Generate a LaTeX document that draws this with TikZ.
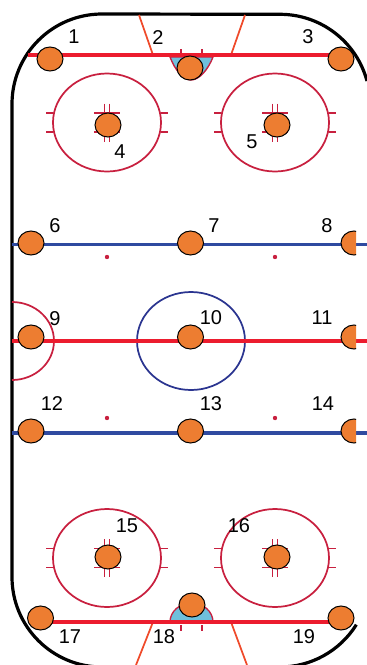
\documentclass[tikz,border=0pt]{standalone}
\usepackage{fontspec}
\setmainfont{Liberation Sans}
\usetikzlibrary{shapes.geometric}
\definecolor{spotorange}{HTML}{ED7D31}
\definecolor{linered}{HTML}{EC1C2E}
\definecolor{lineblue}{HTML}{2F4AA0}
\definecolor{circlered}{HTML}{C8203F}
\definecolor{circleblue}{HTML}{2B3590}
\definecolor{trapred}{HTML}{EF4A2A}
\definecolor{creaseblue}{HTML}{6FC0DC}

\begin{document}
\begin{tikzpicture}[
  x=0.75pt, y=-0.75pt,
  wall/.style={draw=black, line width=2.4pt},
  redline/.style={draw=linered, line width=3.2pt},
  centreline/.style={draw=linered, line width=2.8pt},
  blueline/.style={draw=lineblue, line width=2.8pt},
  trapline/.style={draw=trapred, line width=1.3pt},
  crease/.style={draw=circlered, fill=creaseblue, line width=1pt},
  tick/.style={draw=circlered, line width=1.1pt},
  ring/.style={draw=circlered, line width=1.3pt},
  spot/.style={ellipse, draw=black, fill=spotorange, line width=0.75pt, inner sep=0pt, minimum width=19.5pt, minimum height=18pt},
  lab/.style={font=\fontsize{15}{17}\selectfont, inner sep=0pt},
  faceoff/.pic={
    \draw[ring] (0,0) ellipse (54 and 49);
    \draw[tick] (-54,-9.5) -- (-61,-9.5);
    \draw[tick] (-54,9.5) -- (-61,9.5);
    \draw[tick] (54,-9.5) -- (61,-9.5);
    \draw[tick] (54,9.5) -- (61,9.5);
    \draw[tick] (-2.5,-19) -- (-2.5,19);
    \draw[tick] (2.5,-19) -- (2.5,19);
    \draw[tick] (-13,-9.5) -- (13,-9.5);
    \draw[tick] (-13,9.5) -- (13,9.5);
  }
]
\useasboundingbox (0,0) rectangle (367,665);

% boards
\draw[wall] (367,81) arc (-15:-90:90) -- (102,14) arc (-90:-180:90) -- (12,577) arc (180:90:90) -- (280,667) arc (90:32:90);

% goal creases
\draw[crease] (170,57) .. controls (175,70) and (183,80) .. (191,80) .. controls (199,80) and (208,70) .. (213,57) -- cycle;
\draw[crease] (170,622) arc (180:360:21.5 and 19) -- cycle;
\draw[tick] (181,49) -- (181,54);
\draw[tick] (202,49) -- (202,54);
\draw[tick] (181,625) -- (181,631);
\draw[tick] (202,625) -- (202,631);

% trapezoids
\draw[trapline] (139,15) -- (153,55);
\draw[trapline] (245,15) -- (231,55);
\draw[trapline] (153,622) -- (136,665);
\draw[trapline] (231,622) -- (247,665);

% circles
\pic at (107,122.5) {faceoff};
\pic at (275,122.5) {faceoff};
\pic at (107,558) {faceoff};
\pic at (275,558) {faceoff};
\draw[draw=circleblue, line width=1.3pt] (191,341) ellipse (54 and 49);
\draw[ring] (12,302) arc (-90:90:42 and 39);

% lines
\draw[redline] (28,55) -- (340,55);
\draw[blueline] (12,244.5) -- (367,244.5);
\draw[centreline] (12,341) -- (367,341);
\draw[blueline] (12,433) -- (367,433);
\draw[redline] (45,622) -- (340,622);

% dots
\fill[circlered] (107,257) circle (2.2);
\fill[circlered] (275,257) circle (2.2);
\fill[circlered] (107,418) circle (2.2);
\fill[circlered] (275,418) circle (2.2);

% spots
\node[spot] (spot1) at (50,59) {};
\node[spot] (spot2) at (190,68) {};
\node[spot] (spot3) at (341,59) {};
\node[spot] (spot4) at (108,125) {};
\node[spot] (spot5) at (277,125) {};
\node[spot] (spot6) at (31,243) {};
\node[spot] (spot7) at (190.5,243) {};
\node[spot] (spot9) at (31,337) {};
\node[spot] (spot10) at (190.5,337) {};
\node[spot] (spot12) at (31,431) {};
\node[spot] (spot13) at (190.5,431) {};
\node[spot] (spot15) at (108,557) {};
\node[spot] (spot16) at (277,557) {};
\node[spot] (spot17) at (40.5,618) {};
\node[spot] (spot18) at (192,605) {};
\node[spot] (spot19) at (341,618) {};

% spots cut by the right edge
\begin{scope}
\clip (300,200) rectangle (356,460);
\node[spot] (spot8) at (354,243) {};
\node[spot] (spot11) at (354,337) {};
\node[spot] (spot14) at (354,431) {};
\end{scope}

% numbers
\node[lab] (lab1) at (74,37) {1};
\node[lab] (lab2) at (158,38) {2};
\node[lab] (lab3) at (308,37) {3};
\node[lab] (lab4) at (120,152) {4};
\node[lab] (lab5) at (252,142) {5};
\node[lab] (lab6) at (55,226) {6};
\node[lab] (lab7) at (214,226) {7};
\node[lab] (lab8) at (327,226) {8};
\node[lab] (lab9) at (55,319) {9};
\node[lab] (lab10) at (211,318) {10};
\node[lab] (lab11) at (322,318) {11};
\node[lab] (lab12) at (52,404) {12};
\node[lab] (lab13) at (211,404) {13};
\node[lab] (lab14) at (323,404) {14};
\node[lab] (lab15) at (127,526) {15};
\node[lab] (lab16) at (239,526) {16};
\node[lab] (lab17) at (70,637) {17};
\node[lab] (lab18) at (164,637) {18};
\node[lab] (lab19) at (304,637) {19};

\end{tikzpicture}
\end{document}
